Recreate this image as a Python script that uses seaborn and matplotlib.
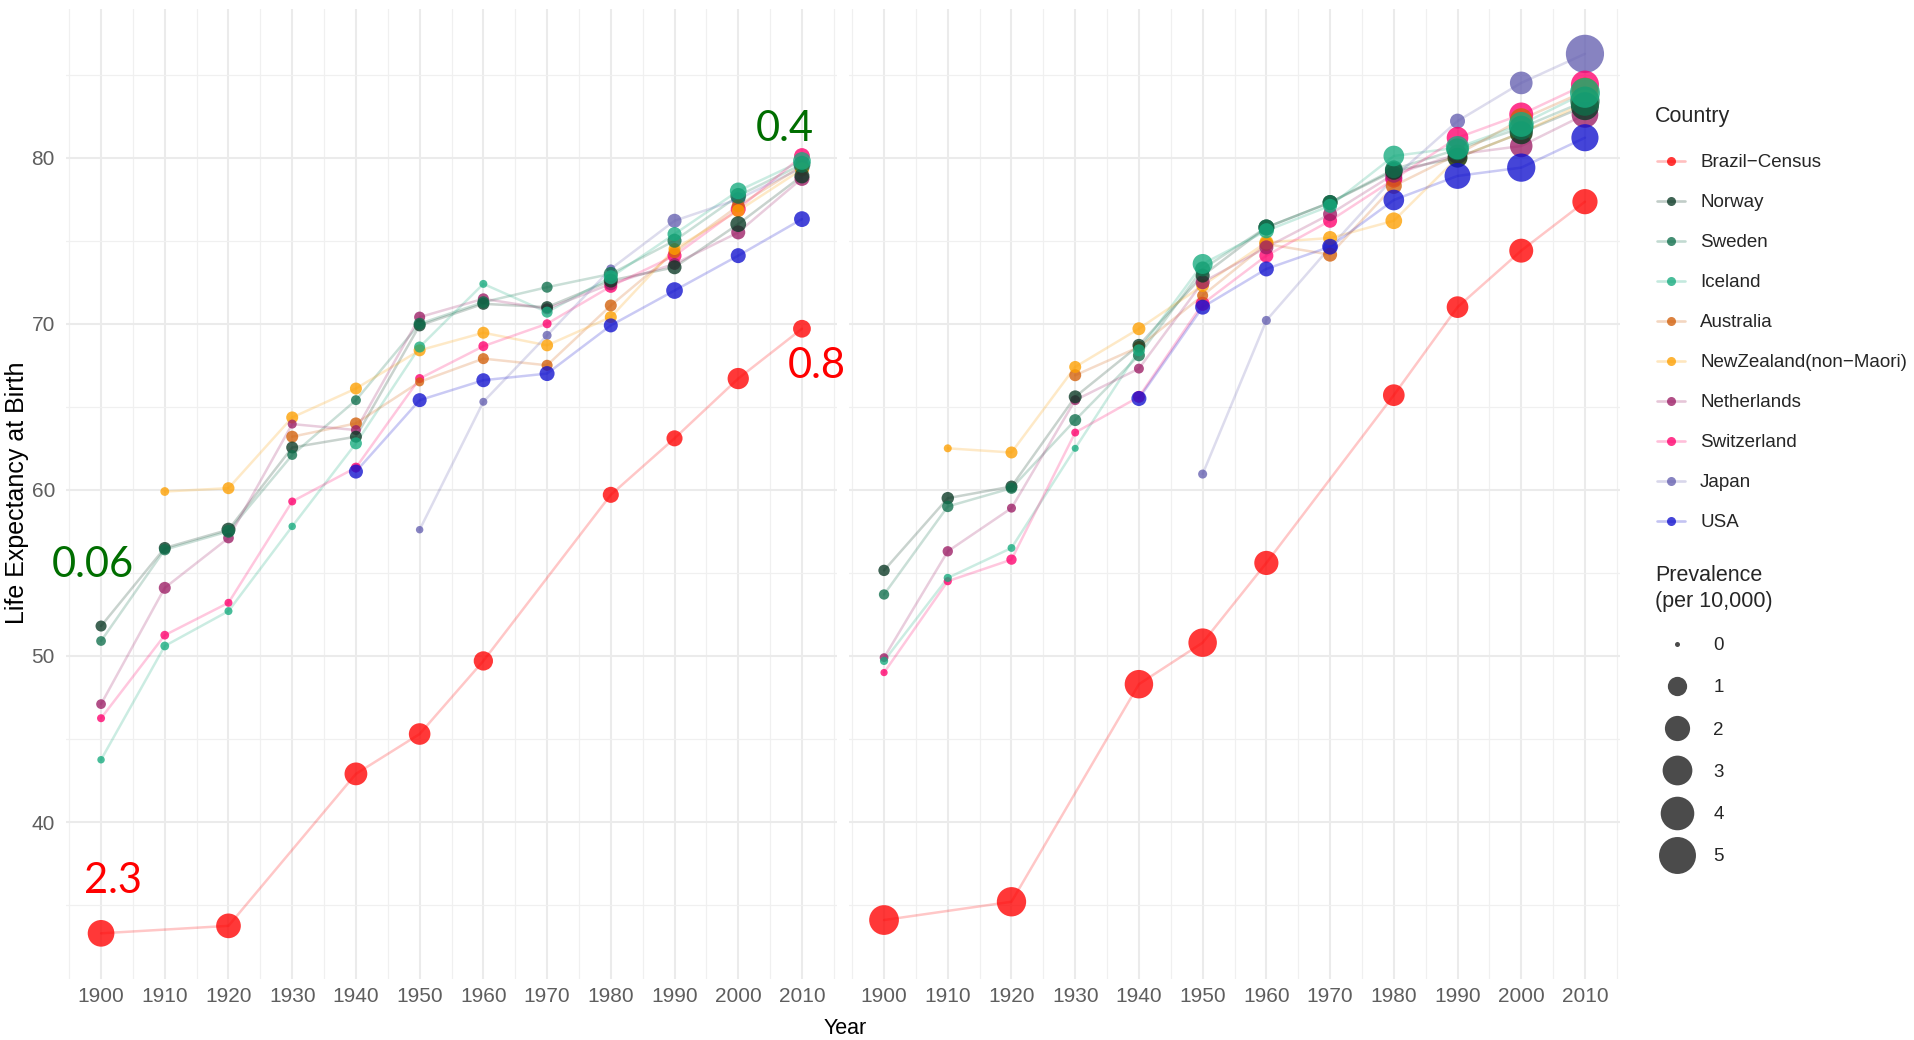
import numpy as np
import pandas as pd
import matplotlib
matplotlib.use("Agg")
import matplotlib.pyplot as plt
from matplotlib.colors import FuncNorm, to_rgba
from matplotlib.lines import Line2D
import seaborn as sns

nan = np.nan

years = [1900, 1910, 1920, 1930, 1940, 1950, 1960, 1970, 1980, 1990, 2000, 2010]

countries = ['Brazil-Census', 'Norway', 'Sweden', 'Iceland', 'Australia',
             'NewZealand(non-Maori)', 'Netherlands', 'Switzerland', 'Japan', 'USA']
legend_labels = ['Brazil\u2212Census', 'Norway', 'Sweden', 'Iceland', 'Australia',
                 'NewZealand(non\u2212Maori)', 'Netherlands', 'Switzerland', 'Japan', 'USA']
colors = ['#FF0000', '#093824', '#0F6F4C', '#16AB7E', '#D25F09',
          '#FD9F00', '#9C1D65', '#FF006D', '#6560B0', '#1010CE']
# order in which the points are stacked (last on top)
draw_order = ['Brazil-Census', 'Japan', 'Switzerland', 'Australia', 'NewZealand(non-Maori)',
              'Netherlands', 'Norway', 'Sweden', 'Iceland', 'USA']

# left panel: life expectancy at birth / prevalence (per 10,000)
brazil_le_l = [33.3, nan, 33.75, nan, 42.9, 45.3, 49.7, nan, 59.7, 63.1, 66.7, 69.7]
brazil_pr_l = [2.3, nan, 1.9, nan, 1.55, 1.35, 1.0, nan, 0.6, 0.6, 1.3, 0.8]
norway_le_l = [51.8, 56.5, 57.6, 62.55, 63.2, 69.9, 71.2, 71.0, 72.6, 73.4, 76.0, 78.9]
norway_pr_l = [0.18, 0.24, 0.4, 0.24, 0.24, 0.24, 0.24, 0.24, 0.4, 0.4, 0.57, 0.49]
sweden_le_l = [50.9, 56.4, 57.5, 62.1, 65.4, 70.0, 71.3, 72.2, 73.0, 75.0, 77.7, 79.6]
sweden_pr_l = [0.11, 0.2, 0.3, 0.12, 0.12, 0.24, 0.24, 0.18, 0.4, 0.4, 0.57, 0.7]
iceland_le_l = [43.75, 50.6, 52.7, 57.8, 62.8, 68.6, 72.4, 70.7, 72.8, 75.4, 78.0, 79.8]
iceland_pr_l = [0.03, 0.07, 0.044, 0.03, 0.24, 0.18, 0.044, 0.18, 0.4, 0.4, 0.67, 0.8]
australia_le_l = [nan, nan, nan, 63.2, 64.0, 66.5, 67.9, 67.5, 71.1, 74.3, 77.1, 79.5]
australia_pr_l = [nan, nan, nan, 0.24, 0.24, 0.08, 0.18, 0.18, 0.24, 0.24, 0.31, 0.4]
nz_le_l = [nan, 59.9, 60.1, 64.36, 66.1, 68.4, 69.46, 68.7, 70.4, 74.5, 76.8, 79.3]
nz_pr_l = [nan, 0.07, 0.24, 0.24, 0.24, 0.24, 0.24, 0.24, 0.24, 0.24, 0.31, 0.4]
netherlands_le_l = [47.1, 54.1, 57.1, 63.96, 63.6, 70.4, 71.5, 70.9, 72.4, 73.6, 75.5, 78.75]
netherlands_pr_l = [0.11, 0.24, 0.16, 0.08, 0.12, 0.18, 0.18, 0.18, 0.3, 0.24, 0.4, 0.49]
switzerland_le_l = [46.25, 51.25, 53.2, 59.3, 61.34, 66.7, 68.65, 70.0, 72.25, 74.1, 76.9, 80.1]
switzerland_pr_l = [0.045, 0.07, 0.044, 0.044, 0.12, 0.08, 0.12, 0.08, 0.31, 0.4, 0.49, 0.57]
japan_le_l = [nan, nan, nan, nan, nan, 57.6, 65.3, 69.3, 73.3, 76.2, 77.5, 79.4]
japan_pr_l = [nan, nan, nan, nan, nan, 0.03, 0.044, 0.08, 0.08, 0.4, 0.4, 0.49]
usa_le_l = [nan, nan, nan, nan, 61.1, 65.4, 66.6, 67.0, 69.9, 72.0, 74.1, 76.3]
usa_pr_l = [nan, nan, nan, nan, 0.4, 0.4, 0.4, 0.49, 0.4, 0.67, 0.49, 0.57]

# right panel
brazil_le_r = [34.1, nan, 35.2, nan, 48.3, 50.8, 55.6, nan, 65.7, 71.0, 74.4, 77.35]
brazil_pr_r = [3.0, nan, 2.9, nan, 2.7, 2.7, 1.8, nan, 1.36, 1.36, 1.76, 2.0]
norway_le_r = [55.15, 59.5, 60.2, 65.6, 68.7, 72.9, 75.8, 77.3, 79.2, 80.0, 81.5, 83.1]
norway_pr_r = [0.2, 0.27, 0.24, 0.31, 0.31, 0.4, 0.59, 0.49, 0.8, 1.1, 1.6, 2.6]
sweden_le_r = [53.7, 59.0, 60.1, 64.2, 68.1, 73.3, 75.8, 77.3, 79.3, 80.5, 81.8, 83.4]
sweden_pr_r = [0.14, 0.2, 0.2, 0.24, 0.24, 0.49, 0.59, 0.49, 0.8, 1.4, 1.8, 2.9]
iceland_le_r = [49.7, 54.7, 56.5, 62.5, 68.4, 73.6, 75.6, 77.1, 80.1, 80.6, 82.0, 83.9]
iceland_pr_r = [0.05, 0.05, 0.04, 0.02, 0.24, 1.1, 0.5, 0.4, 1.2, 1.64, 1.95, 3.05]
australia_le_r = [nan, nan, nan, 66.9, 68.6, 71.7, 74.8, 74.16, 78.3, 80.2, 82.3, 84.0]
australia_pr_r = [nan, nan, nan, 0.24, 0.24, 0.18, 0.4, 0.4, 0.6, 1.0, 1.5, 2.4]
nz_le_r = [nan, 62.5, 62.25, 67.4, 69.7, 72.3, 74.9, 75.16, 76.2, 80.0, 81.5, 83.3]
nz_pr_r = [nan, 0.044, 0.24, 0.24, 0.31, 0.3, 0.4, 0.4, 0.67, 1.0, 1.4, 2.3]
netherlands_le_r = [49.9, 56.3, 58.9, 65.4, 67.3, 72.5, 74.6, 76.6, 79.0, 80.2, 80.7, 82.6]
netherlands_pr_r = [0.07, 0.14, 0.08, 0.12, 0.12, 0.4, 0.4, 0.4, 0.7, 1.0, 1.5, 2.3]
switzerland_le_r = [49.0, 54.5, 55.8, 63.45, 65.6, 71.2, 74.1, 76.2, 78.7, 81.2, 82.6, 84.4]
switzerland_pr_r = [0.025, 0.05, 0.14, 0.044, 0.24, 0.4, 0.4, 0.4, 0.7, 1.36, 1.76, 2.6]
japan_le_r = [nan, nan, nan, nan, nan, 60.95, 70.2, 74.6, 78.8, 82.2, 84.5, 86.25]
japan_pr_r = [nan, nan, nan, nan, nan, 0.08, 0.08, 0.4, 0.7, 0.49, 1.53, 5.4]
usa_le_r = [nan, nan, nan, nan, 65.5, 71.0, 73.3, 74.64, 77.45, 78.9, 79.4, 81.2]
usa_pr_r = [nan, nan, nan, nan, 0.49, 0.49, 0.49, 0.57, 1.2, 2.15, 2.65, 2.4]

left_series = [
    (brazil_le_l, brazil_pr_l), (norway_le_l, norway_pr_l), (sweden_le_l, sweden_pr_l),
    (iceland_le_l, iceland_pr_l), (australia_le_l, australia_pr_l), (nz_le_l, nz_pr_l),
    (netherlands_le_l, netherlands_pr_l), (switzerland_le_l, switzerland_pr_l),
    (japan_le_l, japan_pr_l), (usa_le_l, usa_pr_l),
]
right_series = [
    (brazil_le_r, brazil_pr_r), (norway_le_r, norway_pr_r), (sweden_le_r, sweden_pr_r),
    (iceland_le_r, iceland_pr_r), (australia_le_r, australia_pr_r), (nz_le_r, nz_pr_r),
    (netherlands_le_r, netherlands_pr_r), (switzerland_le_r, switzerland_pr_r),
    (japan_le_r, japan_pr_r), (usa_le_r, usa_pr_r),
]


def long_frame(series):
    rows = []
    for country, (le, pr) in zip(countries, series):
        for yr, v, p in zip(years, le, pr):
            rows.append((country, yr, v, p))
    df = pd.DataFrame(rows, columns=['Country', 'Year', 'LE', 'Prevalence'])
    return df.dropna()


df_left = long_frame(left_series)
df_right = long_frame(right_series)

palette = dict(zip(countries, colors))

# ggplot-like area scale for point size (diameter in pt for prevalence 0 and 5)
D0, D5 = 3.6, 26.6
PREV_MAX = 6


def size_fwd(v):
    v = np.clip(np.asarray(v, dtype=float), 0, None)
    return (D0 + (D5 - D0) * np.sqrt(v / 5)) ** 2


def size_inv(s):
    s = np.asarray(s, dtype=float)
    return 5 * ((np.sqrt(s) - D0) / (D5 - D0)) ** 2


size_norm = FuncNorm((size_fwd, size_inv), vmin=0, vmax=PREV_MAX)
size_range = (float(size_fwd(0)), float(size_fwd(PREV_MAX)))

sns.set_style("white")
plt.rcParams['font.family'] = ['Liberation Sans', 'DejaVu Sans']

W, H = 1915, 1040
fig = plt.figure(figsize=(W / 100, H / 100), dpi=100)
ax_l = fig.add_axes([66 / W, 61 / H, 771 / W, 970 / H])
ax_r = fig.add_axes([849 / W, 61 / H, 771 / W, 970 / H])

tick_family = ['Liberation Sans Narrow', 'Liberation Sans']

for ax, d in [(ax_l, df_left), (ax_r, df_right)]:
    sns.lineplot(data=d, x='Year', y='LE', hue='Country', hue_order=countries,
                 palette=palette, estimator=None, alpha=0.22, linewidth=1.8,
                 legend=False, ax=ax, zorder=2)
    pts = d.assign(_o=d['Country'].map(draw_order.index)).sort_values(['_o', 'Year'])
    sns.scatterplot(data=pts, x='Year', y='LE', hue='Country', hue_order=countries,
                    palette=palette, size='Prevalence', sizes=size_range,
                    size_norm=size_norm, alpha=0.78, linewidth=0,
                    legend=False, ax=ax, zorder=3)
    ax.set_xlim(1894.5, 2015.5)
    ax.set_ylim(30.55, 88.95)
    ax.set_xticks(range(1900, 2011, 10))
    ax.set_xticks(range(1895, 2016, 10), minor=True)
    ax.set_yticks([40, 50, 60, 70, 80])
    ax.set_yticks([35, 45, 55, 65, 75, 85], minor=True)
    ax.grid(which='major', color='#EBEBEB', linewidth=1.5)
    ax.grid(which='minor', color='#F0F0F0', linewidth=0.9)
    ax.set_axisbelow(True)
    for s in ax.spines.values():
        s.set_visible(False)
    ax.tick_params(which='both', length=0)
    ax.tick_params(axis='x', pad=5.5, labelcolor='#5E5E5E')
    ax.tick_params(axis='y', pad=8, labelcolor='#5E5E5E')
    ax.set_xlabel('')
    ax.set_ylabel('')
    for lab in ax.get_xticklabels() + ax.get_yticklabels():
        lab.set_fontfamily(tick_family)
        lab.set_fontsize(15)

ax_r.tick_params(axis='y', labelleft=False)

fig.text(17 / W, 1 - 493 / H, 'Life Expectancy at Birth', rotation=90,
         ha='center', va='center', fontsize=18, color='black')
fig.text(845 / W, 1 - 1029 / H, 'Year', ha='center', va='center',
         fontsize=15.5, color='black')

# overlaid prevalence annotations
ann_font = dict(family=['Lato', 'DejaVu Sans'], fontsize=30, ha='left',
                va='baseline', clip_on=False)
ax_l.text(1892.2, 54.77, '0.06', color='#006E00', **ann_font)
ax_l.text(2002.8, 81.02, '0.4', color='#006E00', **ann_font)
ax_l.text(1897.3, 35.75, '2.3', color='#FF0000', **ann_font)
ax_l.text(2007.8, 66.75, '0.8', color='#FF0000', **ann_font)

# legends
fig.text(1655 / W, 1 - 116.5 / H, 'Country', ha='left', va='center', fontsize=15.5)
country_handles = [
    Line2D([], [], color=to_rgba(c, 0.25), linewidth=1.9, marker='o',
           markersize=6.5, markerfacecolor=to_rgba(c, 0.78),
           markeredgewidth=0)
    for c in colors
]
fig.legend(country_handles, legend_labels,
           loc='upper left', bbox_to_anchor=(1657 / W, 1 - 154 / H),
           frameon=False, fontsize=13.5,
           labelspacing=1.22, handlelength=1.5, handletextpad=0.8,
           borderpad=0, borderaxespad=0)

fig.text(1655 / W, 1 - 588.5 / H, 'Prevalence\n(per 10,000)', ha='left',
         va='center', fontsize=15.5, linespacing=1.33)
prev_breaks = [0, 1, 2, 3, 4, 5]
size_handles = [
    Line2D([], [], linestyle='', marker='o', markersize=float(np.sqrt(size_fwd(v))),
           markerfacecolor='#4B4B4B', markeredgewidth=0)
    for v in prev_breaks
]
fig.legend(size_handles, [str(v) for v in prev_breaks],
           loc='upper left', bbox_to_anchor=(1656 / W, 1 - 637 / H),
           frameon=False, fontsize=13.5,
           labelspacing=1.34, handlelength=2.2, handletextpad=0.85,
           borderpad=0, borderaxespad=0)

fig.savefig('out.png', dpi=100, facecolor='white')
